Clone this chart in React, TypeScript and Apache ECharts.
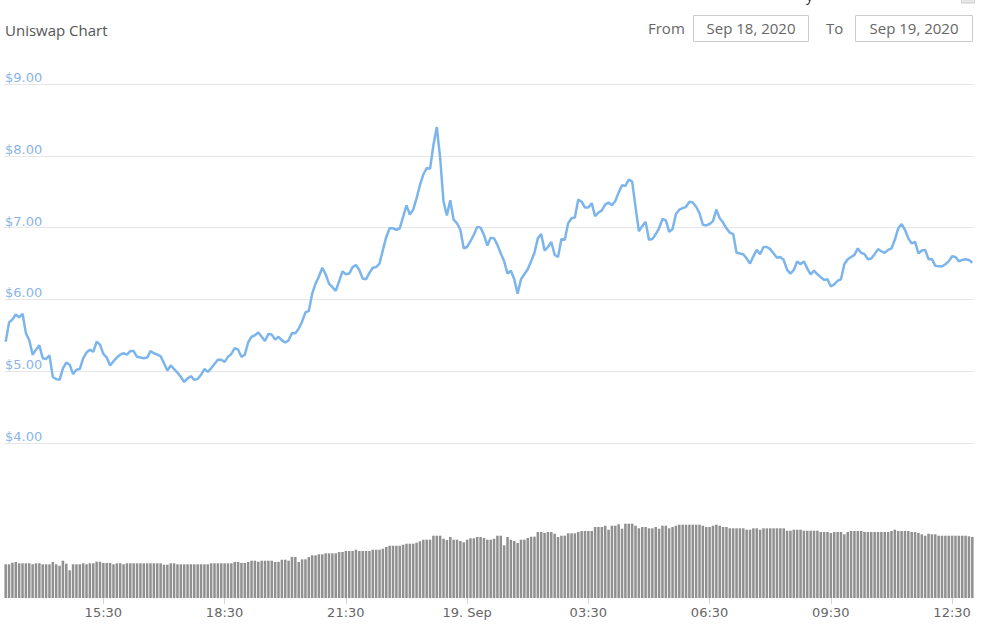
import React, { useEffect, useRef } from "react";
import * as echarts from "echarts";

const startMinutes = 13 * 60 + 5;
const stepMinutes = 5;
const tickTimes = ["15:30", "18:30", "21:30", "00:30", "03:30", "06:30", "09:30", "12:30"];
const tickLabels = ["15:30", "18:30", "21:30", "19. Sep", "03:30", "06:30", "09:30", "12:30"];
const priceMin = 4;
const priceMax = 9;
const fromDate = "Sep 18, 2020";
const toDate = "Sep 19, 2020";

const prices = [
  5.41, 5.68, 5.72, 5.79, 5.75, 5.80, 5.53, 5.43, 5.23, 5.30,
  5.36, 5.18, 5.17, 5.22, 4.92, 4.89, 4.88, 5.04, 5.12, 5.09,
  4.96, 5.02, 5.03, 5.18, 5.26, 5.30, 5.27, 5.41, 5.37, 5.24,
  5.19, 5.08, 5.14, 5.19, 5.23, 5.25, 5.23, 5.28, 5.28, 5.20,
  5.19, 5.18, 5.19, 5.28, 5.25, 5.23, 5.21, 5.11, 5.01, 5.08,
  5.03, 4.98, 4.92, 4.85, 4.90, 4.93, 4.88, 4.89, 4.95, 5.03,
  4.99, 5.04, 5.10, 5.16, 5.16, 5.13, 5.20, 5.24, 5.32, 5.30,
  5.20, 5.23,
  5.40, 5.48, 5.50, 5.54, 5.48, 5.42, 5.52, 5.51, 5.44, 5.48,
  5.43, 5.40, 5.43, 5.53, 5.53, 5.59, 5.69, 5.82, 5.84, 6.08,
  6.22, 6.32, 6.44, 6.35, 6.22, 6.17, 6.12, 6.25, 6.39, 6.35,
  6.36, 6.45, 6.48, 6.41, 6.29, 6.28, 6.37, 6.44, 6.45, 6.50,
  6.69, 6.87, 6.99, 6.99, 6.97, 6.99, 7.15, 7.31, 7.18, 7.25,
  7.41, 7.59, 7.74, 7.83, 7.82, 8.15, 8.40, 7.97, 7.36, 7.17,
  7.38, 7.11, 7.06, 6.97, 6.71, 6.73, 6.81, 6.90, 7.01, 7.00,
  6.90, 6.75, 6.86,
  6.85, 6.76, 6.64, 6.53, 6.36, 6.40, 6.28, 6.08, 6.28, 6.35,
  6.42, 6.53, 6.65, 6.85, 6.91, 6.68, 6.73, 6.80, 6.62, 6.59,
  6.84, 6.83, 7.06, 7.13, 7.14, 7.39, 7.36, 7.28, 7.28, 7.34,
  7.16, 7.21, 7.24, 7.32, 7.35, 7.31, 7.37, 7.49, 7.59, 7.58,
  7.67, 7.64, 7.29, 6.95, 7.02, 7.08, 6.83, 6.84, 6.91, 6.99,
  7.12, 7.10, 6.94, 6.98, 7.19, 7.25, 7.27, 7.29, 7.36, 7.35,
  7.29, 7.20, 7.04, 7.03, 7.05, 7.09, 7.25, 7.13, 7.07, 6.99,
  6.93, 6.91,
  6.65, 6.64, 6.63, 6.57, 6.50, 6.60, 6.69, 6.63, 6.73, 6.73,
  6.70, 6.64, 6.58, 6.59, 6.55, 6.41, 6.36, 6.41, 6.53, 6.49,
  6.53, 6.43, 6.35, 6.40, 6.35, 6.31, 6.27, 6.28, 6.18, 6.21,
  6.26, 6.28, 6.49, 6.56, 6.59, 6.62, 6.71, 6.65, 6.63, 6.56,
  6.57, 6.63, 6.70, 6.67, 6.65, 6.69, 6.71, 6.83, 6.99, 7.05,
  6.97, 6.85, 6.78, 6.80, 6.64, 6.68, 6.69, 6.56, 6.56, 6.47,
  6.46, 6.46, 6.49, 6.53, 6.60, 6.59, 6.53, 6.55, 6.56, 6.55,
  6.51,
];

const volumes = [
  337, 337, 353, 360, 347, 347, 347, 347, 337, 347,
  347, 337, 337, 337, 360, 337, 323, 373, 343, 277,
  337, 337, 337, 347, 337, 347, 347, 363, 363, 350,
  350, 350, 337, 347, 347, 337, 347, 347, 347, 347,
  347, 347, 347, 347, 347, 347, 347, 333, 333, 347,
  347, 337, 337, 337, 337, 337, 337, 337, 337, 337,
  337, 347, 347, 347, 347, 347, 347, 347, 360, 360,
  350, 350, 360, 373, 373, 363, 373, 373, 373, 373,
  360, 360, 383, 383, 373, 410, 410, 360, 387, 387,
  410, 427, 427, 437, 437, 447, 447, 447, 447, 460,
  460, 470, 470, 470, 483, 470, 470, 470, 470, 483,
  483, 483, 493, 510, 523, 523, 523, 523, 533, 543,
  543, 543, 553, 567, 583, 583, 583, 623, 623, 623,
  593, 580, 610, 583, 583, 570, 557, 583, 597, 597,
  610, 610, 600, 583, 583, 593, 623, 623, 527, 610,
  583, 570, 550, 583, 583, 600, 613, 613, 660, 660,
  650, 660, 660, 643, 610, 623, 623, 647, 647, 647,
  660, 670, 670, 670, 670, 710, 710, 710, 723, 683,
  723, 723, 737, 693, 743, 743, 743, 723, 697, 710,
  710, 697, 697, 710, 693, 723, 723, 697, 710, 723,
  733, 733, 733, 733, 733, 733, 733, 723, 710, 710,
  723, 733, 723, 710, 710, 697, 697, 697, 697, 697,
  683, 683, 697, 697, 683, 697, 697, 697, 697, 697,
  697, 697, 673, 673, 683, 683, 683, 673, 673, 673,
  673, 673, 660, 660, 660, 650, 660, 660, 660, 637,
  660, 670, 670, 670, 670, 660, 660, 660, 660, 660,
  660, 660, 660, 670, 683, 670, 670, 670, 670, 660,
  660, 650, 637, 623, 643, 637, 637, 623, 623, 623,
  623, 623, 623, 623, 623, 623, 617, 610,
];

function pad(n: number) {
  return n < 10 ? "0" + n : "" + n;
}

function buildCategories(n: number) {
  const out: string[] = [];
  for (let i = 0; i < n; i++) {
    const t = (startMinutes + i * stepMinutes) % 1440;
    out.push(pad(Math.floor(t / 60)) + ":" + pad(t % 60));
  }
  return out;
}

export default function App() {
  const ref = useRef<HTMLDivElement>(null);

  useEffect(() => {
    if (!ref.current) return;
    const chart = echarts.init(ref.current, null, { renderer: "svg" });
    const categories = buildCategories(prices.length);
    const isTick = (_i: number, v: string) => tickTimes.indexOf(v) >= 0;
    const uiFont = '"Open Sans", sans-serif';
    const axisFont = '"DejaVu Sans", sans-serif';

    chart.setOption({
      animation: false,
      backgroundColor: "#ffffff",
      grid: [
        { left: 4, right: 27, top: 84, height: 359, containLabel: false, outerBoundsMode: "none" },
        { left: 4, right: 27, top: 448, bottom: 31, containLabel: false, outerBoundsMode: "none" },
      ],
      xAxis: [
        { type: "category", gridIndex: 0, data: categories, boundaryGap: true, show: false },
        {
          type: "category",
          gridIndex: 1,
          data: categories,
          boundaryGap: true,
          axisLine: { show: false },
          axisTick: { show: true, alignWithLabel: true, interval: isTick, length: 6, lineStyle: { color: "#ccd6eb" } },
          axisLabel: {
            interval: isTick,
            formatter: (v: string) => {
              const k = tickTimes.indexOf(v);
              return k >= 0 ? tickLabels[k] : "";
            },
            color: "#666666",
            fontSize: 13,
            fontFamily: axisFont,
            margin: 8,
          },
          splitLine: { show: false },
        },
      ],
      yAxis: [
        {
          type: "value",
          gridIndex: 0,
          min: priceMin,
          max: priceMax,
          interval: 1,
          axisLine: { show: false },
          axisTick: { show: false },
          splitLine: { show: true, lineStyle: { color: "#e6e6e6", width: 1 } },
          axisLabel: {
            inside: true,
            margin: 1,
            formatter: (v: number) => "$" + v.toFixed(2),
            color: "#8ab4e8",
            fontSize: 13,
            fontFamily: axisFont,
            verticalAlign: "bottom",
          },
        },
        { type: "value", gridIndex: 1, min: 0, max: 1500, show: false, splitLine: { show: false } },
      ],
      series: [
        {
          type: "line",
          xAxisIndex: 0,
          yAxisIndex: 0,
          data: prices,
          symbol: "none",
          showSymbol: false,
          lineStyle: { color: "#7cb5ec", width: 2.5 },
          itemStyle: { color: "#7cb5ec" },
          z: 3,
        },
        {
          type: "bar",
          xAxisIndex: 1,
          yAxisIndex: 1,
          data: volumes,
          barCategoryGap: "25%",
          itemStyle: { color: "#909090" },
        },
      ],
      graphic: [
        {
          type: "text",
          x: 5,
          y: 30,
          style: { text: "Uniswap Chart", fill: "#555555", font: `15px ${uiFont}`, textVerticalAlign: "middle" },
        },
        {
          type: "text",
          x: 648,
          y: 28,
          style: { text: "From", fill: "#666666", font: `15px ${uiFont}`, textVerticalAlign: "middle" },
        },
        {
          type: "rect",
          shape: { x: 693.5, y: 15.5, width: 115, height: 26 },
          style: { fill: "#ffffff", stroke: "#cccccc", lineWidth: 1 },
        },
        {
          type: "text",
          x: 751,
          y: 28,
          style: { text: fromDate, fill: "#666666", font: `15px ${uiFont}`, textAlign: "center", textVerticalAlign: "middle" },
        },
        {
          type: "text",
          x: 826,
          y: 28,
          style: { text: "To", fill: "#666666", font: `15px ${uiFont}`, textVerticalAlign: "middle" },
        },
        {
          type: "rect",
          shape: { x: 855.5, y: 15.5, width: 117, height: 26 },
          style: { fill: "#ffffff", stroke: "#cccccc", lineWidth: 1 },
        },
        {
          type: "text",
          x: 914,
          y: 28,
          style: { text: toDate, fill: "#666666", font: `15px ${uiFont}`, textAlign: "center", textVerticalAlign: "middle" },
        },
        {
          type: "text",
          x: 806,
          y: -12,
          style: { text: "y", fill: "#333333", font: `14px ${uiFont}` },
        },
        {
          type: "rect",
          shape: { x: 961.5, y: -3, width: 13, height: 6 },
          style: { fill: "#e6e6e6", stroke: "#cccccc", lineWidth: 1 },
        },
        {
          type: "rect",
          shape: { x: 846, y: 441, width: 20, height: 4 },
          style: { fill: "#ffffff" },
        },
      ],
    });

    return () => chart.dispose();
  }, []);

  return (
    <div
      ref={ref}
      style={{ position: "fixed", left: 0, top: 0, width: 1001, height: 629, background: "#fff" }}
    />
  );
}
